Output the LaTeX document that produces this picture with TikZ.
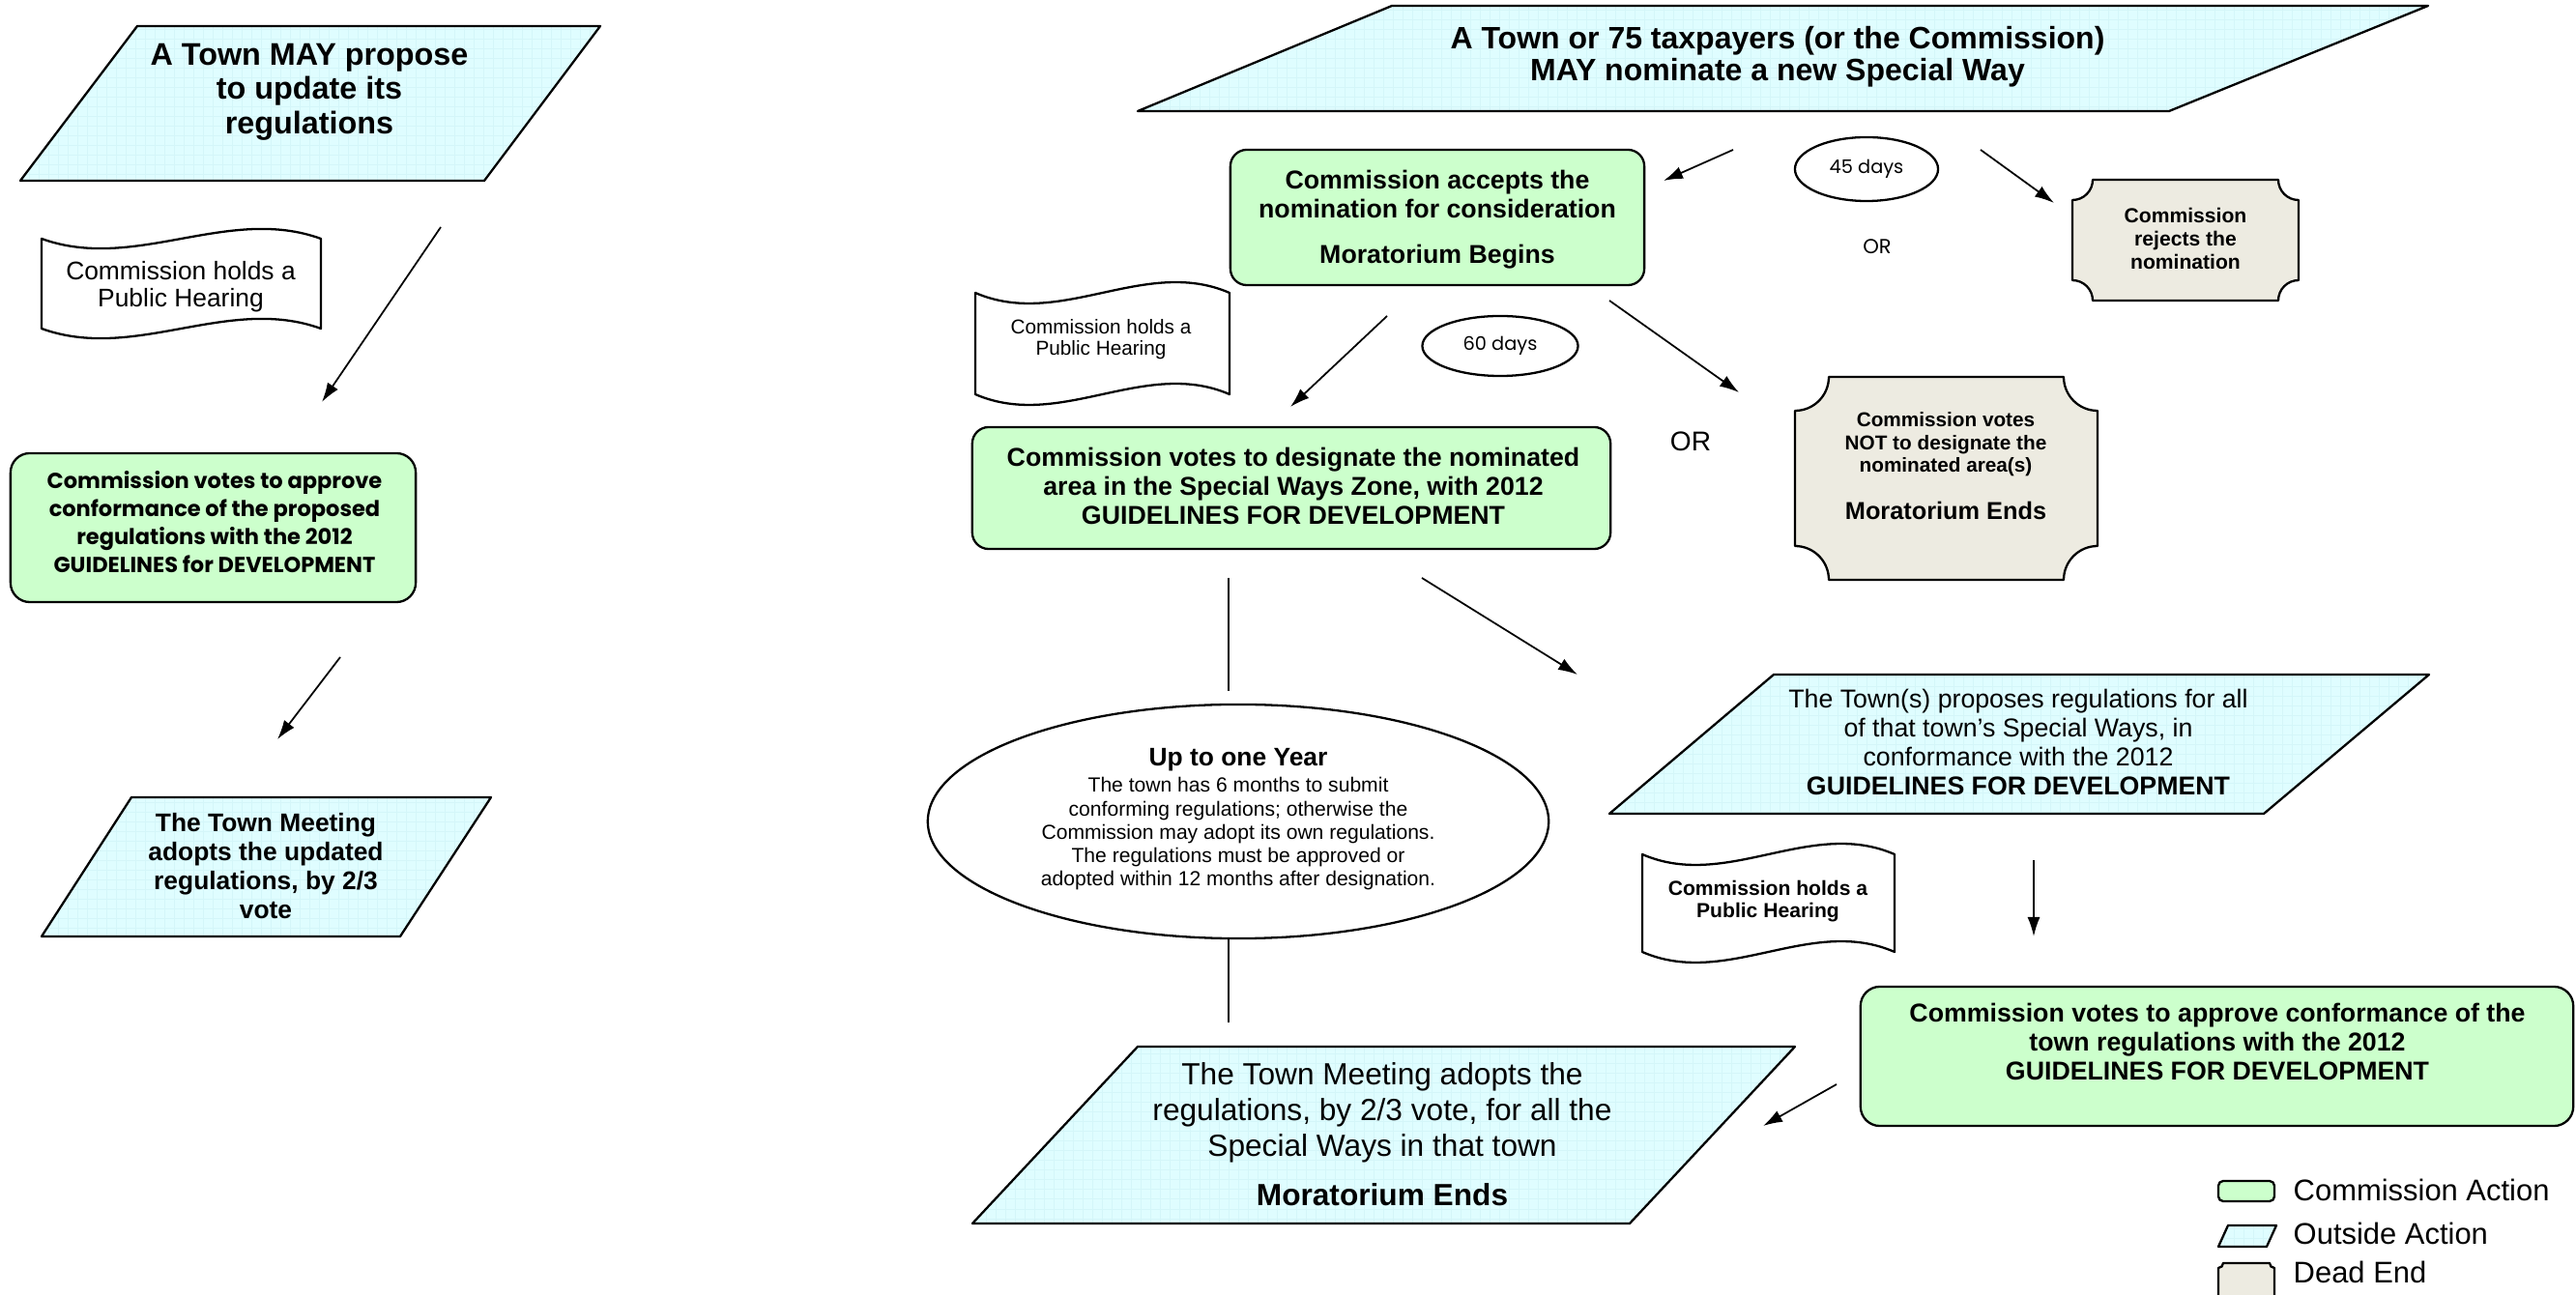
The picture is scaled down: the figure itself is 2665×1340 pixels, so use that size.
\documentclass[tikz,border=0pt]{standalone}
\usepackage{fontspec}
\setmainfont{Liberation Sans}
\newfontfamily\fut{Poppins}
\usetikzlibrary{arrows.meta,shapes.geometric}
\definecolor{greenF}{HTML}{CCFFCC}
\definecolor{cyanF}{HTML}{DFFDFF}
\definecolor{cyanG}{HTML}{D4F6F9}
\definecolor{deadF}{HTML}{EDEBE1}
\newcommand\TapeShape[5]{%
  \filldraw[tapefill] (#1,#2) .. controls ({#1+(#3-#1)/3},{#2+#5}) and ({#1+2*(#3-#1)/3},{#2-#5}) .. (#3,#2)
    -- (#3,#4) .. controls ({#1+2*(#3-#1)/3},{#4-#5}) and ({#1+(#3-#1)/3},{#4+#5}) .. (#1,#4) -- cycle;}
\newcommand\PlaqueShape[6]{%
  \filldraw[deadfill] ({#1+#5},#2) -- ({#3-#5},#2) arc[start angle=180,end angle=90,x radius=#5,y radius=#6]
    -- (#3,{#4-#6}) arc[start angle=270,end angle=180,x radius=#5,y radius=#6]
    -- ({#1+#5},#4) arc[start angle=0,end angle=-90,x radius=#5,y radius=#6]
    -- (#1,{#2+#6}) arc[start angle=90,end angle=0,x radius=#5,y radius=#6] -- cycle;}
\tikzset{
  outline/.style={draw=black, line width=0.65pt},
  greenbox/.style={outline, fill=greenF, rounded corners=1.7mm, inner sep=0pt},
  parafill/.style={outline, fill=cyanF, path picture={\draw[cyanG, line width=0.12pt] ([xshift=-1mm,yshift=-1mm]path picture bounding box.south west) grid[step=1mm] (path picture bounding box.north east);}},
  tapefill/.style={outline, fill=white},
  deadfill/.style={outline, fill=deadF},
  ovalbox/.style={ellipse, outline, fill=white, inner sep=0pt},
  arr/.style={-{Latex[length=2mm,width=1.3mm]}, line width=0.5pt},
  plainline/.style={line width=0.5pt},
  txt/.style={align=center, inner sep=0pt, text=black},
}
\begin{document}
\begin{tikzpicture}[x=0.01cm, y=-0.01cm, line join=round]
\useasboundingbox (0,0) rectangle (2665,1340);
\clip (0,0) rectangle (2665,1340);
\fill[white] (0,0) rectangle (2665,1340);

% ---------------- left column ----------------
\filldraw[parafill] (142,27) -- (621,27) -- (501,187) -- (21,187) -- cycle;
\node[txt, font={\fontsize{9.2}{10.1}\selectfont\bfseries}] (p1) at (320,95) {A Town MAY propose\\to update its\\regulations};

\TapeShape{43}{247}{332}{340}{35}
\node[txt, font={\fontsize{7.5}{8}\selectfont}] (doc1) at (187,297) {Commission holds a\\Public Hearing};

\coordinate (a1s) at (456,235); \coordinate (a1e) at (333,416);
\draw[arr] (a1s) -- (a1e);

\node[greenbox, rounded corners=2mm, minimum width=41.9mm, minimum height=15.4mm] (gl) at (220.5,546) {};
\node[txt, font={\fut\fontsize{6.4}{8.2}\selectfont\bfseries}] (glT) at (222,540) {Commission votes to approve\\conformance of the proposed\\regulations with the 2012\\GUIDELINES for DEVELOPMENT};

\coordinate (a2s) at (352,680); \coordinate (a2e) at (287,765);
\draw[arr] (a2s) -- (a2e);

\filldraw[parafill] (136,825) -- (508,825) -- (414,969) -- (43,969) -- cycle;
\node[txt, font={\fontsize{7.5}{8.55}\selectfont\bfseries}] (p2) at (275,896) {The Town Meeting\\adopts the updated\\regulations, by 2/3\\vote};

% ---------------- right part ----------------
\filldraw[parafill] (1440,6) -- (2512,6) -- (2244,115) -- (1177,115) -- cycle;
\node[txt, font={\fontsize{9.1}{9.5}\selectfont\bfseries}] (p3) at (1839,59) {A Town or 75 taxpayers (or the Commission)\\MAY nominate a new Special Way};

\node[greenbox, minimum width=42.8mm, minimum height=14mm] (acc) at (1487,225) {};
\node[txt, font={\fontsize{7.6}{8.5}\selectfont\bfseries}] (accT) at (1487,227) {Commission accepts the\\nomination for consideration\\[4.9pt]Moratorium Begins};

\coordinate (a3s) at (1793,155); \coordinate (a3e) at (1721,187);
\draw[arr] (a3s) -- (a3e);

\node[ovalbox, minimum width=14.8mm, minimum height=6.6mm] (d45) at (1931,175) {\fut\fontsize{5.5}{6.5}\selectfont 45 days};

\coordinate (a4s) at (2049,155); \coordinate (a4e) at (2125,210);
\draw[arr] (a4s) -- (a4e);

\node[txt, font={\fut\fontsize{6}{7}\selectfont}] (or1) at (1942,255) {OR};

\PlaqueShape{2144}{186}{2378}{311}{21}{21}
\node[txt, font={\fontsize{6}{6.8}\selectfont\bfseries}] (rejT) at (2261,247) {Commission\\rejects the\\nomination};

\TapeShape{1009}{303}{1272}{408}{38}
\node[txt, font={\fontsize{5.9}{6.1}\selectfont}] (doc2) at (1139,351) {Commission holds a\\Public Hearing};

\coordinate (a5s) at (1435,327); \coordinate (a5e) at (1335,421);
\draw[arr] (a5s) -- (a5e);

\node[ovalbox, minimum width=16.1mm, minimum height=6.2mm] (d60) at (1552,358) {\fut\fontsize{5.5}{6.5}\selectfont 60 days};

\coordinate (a6s) at (1665,311); \coordinate (a6e) at (1799,406);
\draw[arr] (a6s) -- (a6e);

\node[greenbox, minimum width=66mm, minimum height=12.6mm] (des) at (1336,505) {};
\node[txt, font={\fontsize{7.6}{8.5}\selectfont\bfseries}] (desT) at (1338,503) {Commission votes to designate the nominated\\area in the Special Ways Zone, with 2012\\GUIDELINES FOR DEVELOPMENT};

\node[txt, font={\fontsize{8}{9}\selectfont}] (or2) at (1749,457) {OR};

\PlaqueShape{1857}{390}{2170}{600}{35}{35}
\node[txt, font={\fontsize{5.9}{6.7}\selectfont\bfseries}] (notT) at (2013,482) {Commission votes\\NOT to designate the\\nominated area(s)\\[7pt]{\fontsize{7.2}{8}\selectfont Moratorium Ends}};

\coordinate (l1s) at (1271,598); \coordinate (l1e) at (1271,715);
\draw[plainline] (l1s) -- (l1e);

\coordinate (a7s) at (1471,598); \coordinate (a7e) at (1632,698);
\draw[arr] (a7s) -- (a7e);

\node[ovalbox, minimum width=64.2mm, minimum height=24.2mm] (yr) at (1281,850) {};
\node[txt, font={\fontsize{6}{6.9}\selectfont}] (yrT) at (1281,848) {{\fontsize{7.5}{8}\selectfont\bfseries Up to one Year}\\[0.8pt]The town has 6 months to submit\\conforming regulations; otherwise the\\Commission may adopt its own regulations.\\The regulations must be approved or\\adopted within 12 months after designation.};

\coordinate (l2s) at (1271,971); \coordinate (l2e) at (1271,1058);
\draw[plainline] (l2s) -- (l2e);

\filldraw[parafill] (1835,698) -- (2513,698) -- (2342,842) -- (1665,842) -- cycle;
\node[txt, font={\fontsize{7.6}{8.5}\selectfont}] (p4) at (2088,768) {The Town(s) proposes regulations for all\\of that town's Special Ways, in\\conformance with the 2012\\\textbf{GUIDELINES FOR DEVELOPMENT}};

\TapeShape{1699}{884}{1960}{985}{38}
\node[txt, font={\fontsize{6}{6.5}\selectfont\bfseries}] (doc3) at (1829,933) {Commission holds a\\Public Hearing};

\coordinate (a8s) at (2104,890); \coordinate (a8e) at (2104,969);
\draw[arr] (a8s) -- (a8e);

\node[greenbox, rounded corners=2mm, minimum width=73.7mm, minimum height=14.4mm] (app) at (2293.5,1093) {};
\node[txt, font={\fontsize{7.6}{8.5}\selectfont\bfseries}] (appT) at (2294,1078) {Commission votes to approve conformance of the\\town regulations with the 2012\\GUIDELINES FOR DEVELOPMENT};

\coordinate (a9s) at (1900,1122); \coordinate (a9e) at (1824,1165);
\draw[arr] (a9s) -- (a9e);

\filldraw[parafill] (1177,1083) -- (1857,1083) -- (1686,1266) -- (1006,1266) -- cycle;
\node[txt, font={\fontsize{9}{10.5}\selectfont}] (p5) at (1430,1174) {The Town Meeting adopts the\\regulations, by 2/3 vote, for all the\\Special Ways in that town\\[4pt]\textbf{Moratorium Ends}};

% ---------------- legend ----------------
\node[greenbox, rounded corners=0.5mm, minimum width=5.8mm, minimum height=2.1mm] (lg1) at (2324,1232.5) {};
\filldraw[parafill] (2305,1268) -- (2355,1268) -- (2345,1290) -- (2295,1290) -- cycle;
\PlaqueShape{2295}{1307}{2353}{1350}{5}{5}
\node[txt, anchor=base west, font={\fontsize{8.8}{10}\selectfont}] (lt1) at (2372,1243) {Commission Action};
\node[txt, anchor=base west, font={\fontsize{8.8}{10}\selectfont}] (lt2) at (2372,1288) {Outside Action};
\node[txt, anchor=base west, font={\fontsize{8.8}{10}\selectfont}] (lt3) at (2372,1328) {Dead End};
\end{tikzpicture}
\end{document}
